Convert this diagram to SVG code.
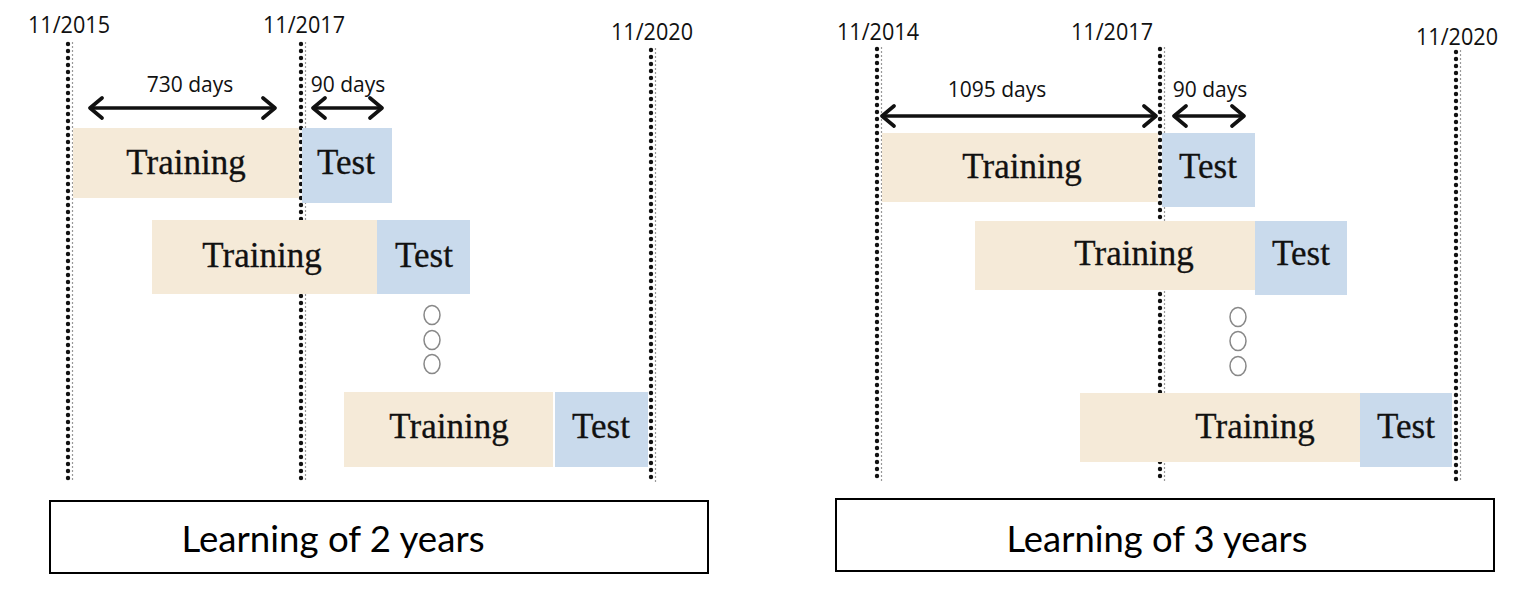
<svg xmlns="http://www.w3.org/2000/svg" width="1526" height="592" viewBox="0 0 1526 592">
<style>
.dots{stroke:#111;stroke-width:4.4;stroke-linecap:round;stroke-dasharray:0 7;fill:none}
.dash{stroke:#999;stroke-width:1.2;stroke-dasharray:2 2;fill:none}
.tr{fill:#F5EAD8}
.te{fill:#C9DAEC}
.lbl{font-family:"Liberation Serif","Times New Roman",serif;font-size:35px;fill:#111;stroke:#111;stroke-width:0.3;text-anchor:middle}
.date{font-family:"Open Sans","Noto Sans",sans-serif;font-size:24px;fill:#111;text-anchor:middle}
.days{font-family:"Open Sans","Noto Sans",sans-serif;font-size:21px;fill:#111;text-anchor:middle}
.arr{stroke:#111;stroke-width:3.6;fill:none;marker-start:url(#hd);marker-end:url(#hd)}
.cap{font-family:"Lato","Liberation Sans",sans-serif;font-size:36px;fill:#000;text-anchor:middle}
.box{fill:#fff;stroke:#000;stroke-width:2}
.dot{fill:none;stroke:#888;stroke-width:1.5}
</style>
<defs>
<marker id="hd" markerUnits="userSpaceOnUse" viewBox="0 0 16 24" refX="14" refY="12" markerWidth="16" markerHeight="24" orient="auto-start-reverse">
<path d="M2,2 L14,12 L2,22" fill="none" stroke="#111" stroke-width="3.6" stroke-linecap="round" stroke-linejoin="round"/>
</marker>
</defs>
<rect width="1526" height="592" fill="#fff"/>

<g id="timelines">
<line class="dots" x1="68" y1="44" x2="68" y2="482"/><line class="dash" x1="72.5" y1="42" x2="72.5" y2="482"/>
<line class="dots" x1="301" y1="44" x2="301" y2="482"/><line class="dash" x1="305.5" y1="42" x2="305.5" y2="482"/>
<line class="dots" x1="651" y1="50" x2="651" y2="482"/><line class="dash" x1="655.5" y1="48" x2="655.5" y2="482"/>
<line class="dots" x1="877" y1="49" x2="877" y2="482"/><line class="dash" x1="881.5" y1="47" x2="881.5" y2="482"/>
<line class="dots" x1="1160" y1="49" x2="1160" y2="482"/><line class="dash" x1="1164.5" y1="47" x2="1164.5" y2="482"/>
<line class="dots" x1="1456" y1="52" x2="1456" y2="482"/><line class="dash" x1="1460.5" y1="50" x2="1460.5" y2="482"/>
</g>

<g id="dates">
<text class="date" x="69" y="33" textLength="82" lengthAdjust="spacingAndGlyphs">11/2015</text>
<text class="date" x="304" y="33" textLength="82" lengthAdjust="spacingAndGlyphs">11/2017</text>
<text class="date" x="652" y="40" textLength="82" lengthAdjust="spacingAndGlyphs">11/2020</text>
<text class="date" x="878" y="40" textLength="82" lengthAdjust="spacingAndGlyphs">11/2014</text>
<text class="date" x="1112" y="40" textLength="82" lengthAdjust="spacingAndGlyphs">11/2017</text>
<text class="date" x="1457" y="45" textLength="82" lengthAdjust="spacingAndGlyphs">11/2020</text>
</g>

<g id="connectors">
<line class="arr" x1="90" y1="108" x2="275" y2="108"/>
<line class="arr" x1="313" y1="108" x2="382" y2="108"/>
<line class="arr" x1="882" y1="116" x2="1156" y2="116"/>
<line class="arr" x1="1174" y1="116" x2="1244" y2="116"/>
<text class="days" x="190" y="92">730 days</text>
<text class="days" x="348" y="92">90 days</text>
<text class="days" x="997" y="97">1095 days</text>
<text class="days" x="1210" y="97">90 days</text>
</g>

<g id="left-row1">
<rect class="tr" x="73" y="128" width="226" height="70"/>
<text class="lbl" x="186" y="174">Training</text>
<rect class="te" x="302" y="128" width="90" height="75"/>
<text class="lbl" x="346" y="174">Test</text>
</g>
<g id="left-row2">
<rect class="tr" x="152" y="220" width="225" height="74"/>
<text class="lbl" x="262" y="267">Training</text>
<rect class="te" x="377" y="220" width="93" height="74"/>
<text class="lbl" x="424" y="267">Test</text>
</g>
<g id="left-ellipsis">
<ellipse class="dot" cx="432" cy="315" rx="8" ry="9.5"/>
<ellipse class="dot" cx="432" cy="340" rx="8" ry="9.5"/>
<ellipse class="dot" cx="432" cy="364" rx="8" ry="9.5"/>
</g>
<g id="left-row3">
<rect class="tr" x="344" y="392" width="209" height="75"/>
<text class="lbl" x="449" y="438">Training</text>
<rect class="te" x="555" y="392" width="93" height="75"/>
<text class="lbl" x="601" y="438">Test</text>
</g>

<g id="right-row1">
<rect class="tr" x="882" y="133" width="276" height="69"/>
<text class="lbl" x="1022" y="178">Training</text>
<rect class="te" x="1162" y="133" width="93" height="74"/>
<text class="lbl" x="1208" y="178">Test</text>
</g>
<g id="right-row2">
<rect class="tr" x="975" y="221" width="280" height="69"/>
<text class="lbl" x="1134" y="265">Training</text>
<rect class="te" x="1255" y="221" width="92" height="74"/>
<text class="lbl" x="1301" y="265">Test</text>
</g>
<g id="right-ellipsis">
<ellipse class="dot" cx="1238" cy="317" rx="8" ry="9.5"/>
<ellipse class="dot" cx="1238" cy="341" rx="8" ry="9.5"/>
<ellipse class="dot" cx="1238" cy="366" rx="8" ry="9.5"/>
</g>
<g id="right-row3">
<rect class="tr" x="1080" y="393" width="280" height="69"/>
<text class="lbl" x="1255" y="438">Training</text>
<rect class="te" x="1360" y="393" width="92" height="74"/>
<text class="lbl" x="1406" y="438">Test</text>
</g>

<g id="caption-left">
<rect class="box" x="50" y="501" width="658" height="72"/>
<text class="cap" x="333" y="552" textLength="303" lengthAdjust="spacingAndGlyphs">Learning of 2 years</text>
</g>
<g id="caption-right">
<rect class="box" x="836" y="499" width="658" height="72"/>
<text class="cap" x="1157" y="552" textLength="301" lengthAdjust="spacingAndGlyphs">Learning of 3 years</text>
</g>
</svg>
